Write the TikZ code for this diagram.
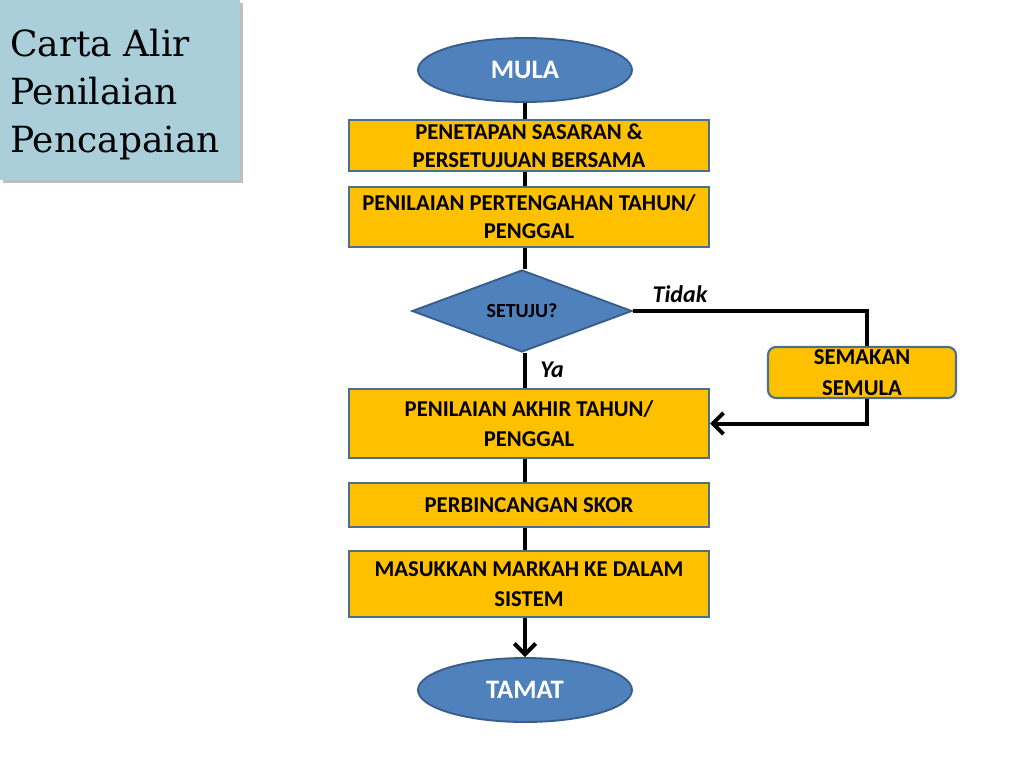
\documentclass[tikz,border=0pt]{standalone}
\usepackage{fontspec}
\setmainfont{Carlito}
\newfontfamily\titlefont{DejaVu Serif}
\usetikzlibrary{shapes.geometric,arrows.meta,positioning}
\definecolor{stepgold}{HTML}{FFC000}
\definecolor{termblue}{HTML}{4F81BD}
\definecolor{termedge}{HTML}{385D8A}
\definecolor{boxedge}{HTML}{4A6F8F}
\definecolor{titlebg}{HTML}{AACFDA}
\begin{document}
\begin{tikzpicture}[x=0.75pt,y=-0.75pt,
    terminal/.style={ellipse, draw=termedge, fill=termblue, line width=1.4pt,
      minimum width=160.5pt, minimum height=48pt, text=white,
      font=\bfseries\fontsize{20}{24}\selectfont},
    stepbox/.style={rectangle, draw=boxedge, fill=stepgold, line width=1.6pt,
      minimum width=270pt, align=center, inner sep=0pt,
      font=\bfseries\fontsize{17}{21}\selectfont},
    decision/.style={diamond, draw=termedge, fill=termblue, line width=1.4pt,
      minimum width=165pt, minimum height=61.5pt, aspect=2.7, inner sep=0pt,
      font=\bfseries\fontsize{15}{18}\selectfont},
    flow/.style={line width=3pt},
    tip/.style={-{Straight Barb[length=8pt,width=16pt]}},
    answer/.style={font=\bfseries\itshape\fontsize{18}{21}\selectfont}]
  \useasboundingbox (0,0) rectangle (1024,768);
  % title panel
  \fill[black!25] (3,3) rectangle (243,183);
  \fill[titlebg] (0,0) rectangle (240,180);
  \node[anchor=north west, align=left, inner sep=0pt,
    font=\titlefont\fontsize{27}{36}\selectfont] (title) at (10,29)
    {Carta Alir\\Penilaian\\Pencapaian};
  % flow chart
  \node[terminal] (mula) at (525,70) {MULA};
  \node[stepbox, minimum height=38.25pt] (sasaran) at (529,145.5)
    {PENETAPAN SASARAN \&\\PERSETUJUAN BERSAMA};
  \node[stepbox, minimum height=45pt] (tengah) at (529,217)
    {PENILAIAN PERTENGAHAN TAHUN/\\PENGGAL};
  \node[decision] (setuju) at (522,311) {SETUJU?};
  \node[stepbox, rounded corners=6pt, minimum width=141pt, minimum height=38.25pt]
    (semakan) at (862,372.5) {SEMAKAN\\[2pt]SEMULA};
  \node[stepbox, minimum height=51.75pt] (akhir) at (529,423.5)
    {PENILAIAN AKHIR TAHUN/\\[2pt]PENGGAL};
  \node[stepbox, minimum height=33pt] (skor) at (529,505) {PERBINCANGAN SKOR};
  \node[stepbox, minimum height=49.5pt] (markah) at (529,584)
    {MASUKKAN MARKAH KE DALAM\\[2pt]SISTEM};
  \node[terminal] (tamat) at (525,690) {TAMAT};
  \node[answer] (tidak) at (680,294) {Tidak};
  \node[answer] (ya) at (552,370) {Ya};
  % connectors
  \coordinate (loop) at (867,372.5);
  \draw[flow] (mula) -- (sasaran.north -| mula);
  \draw[flow] (sasaran.south -| mula) -- (tengah.north -| mula);
  \draw[flow] (tengah.south -| mula) -- (setuju.north -| mula);
  \draw[flow] (setuju.south -| mula) -- (akhir.north -| mula);
  \draw[flow] (akhir.south -| mula) -- (skor.north -| mula);
  \draw[flow] (skor.south -| mula) -- (markah.north -| mula);
  \draw[flow, tip] (markah.south -| mula) -- (tamat);
  \draw[flow] (setuju.east) -| (semakan.north -| loop);
  \draw[flow, tip] (semakan.south -| loop) |- (akhir.east);
\end{tikzpicture}
\end{document}
